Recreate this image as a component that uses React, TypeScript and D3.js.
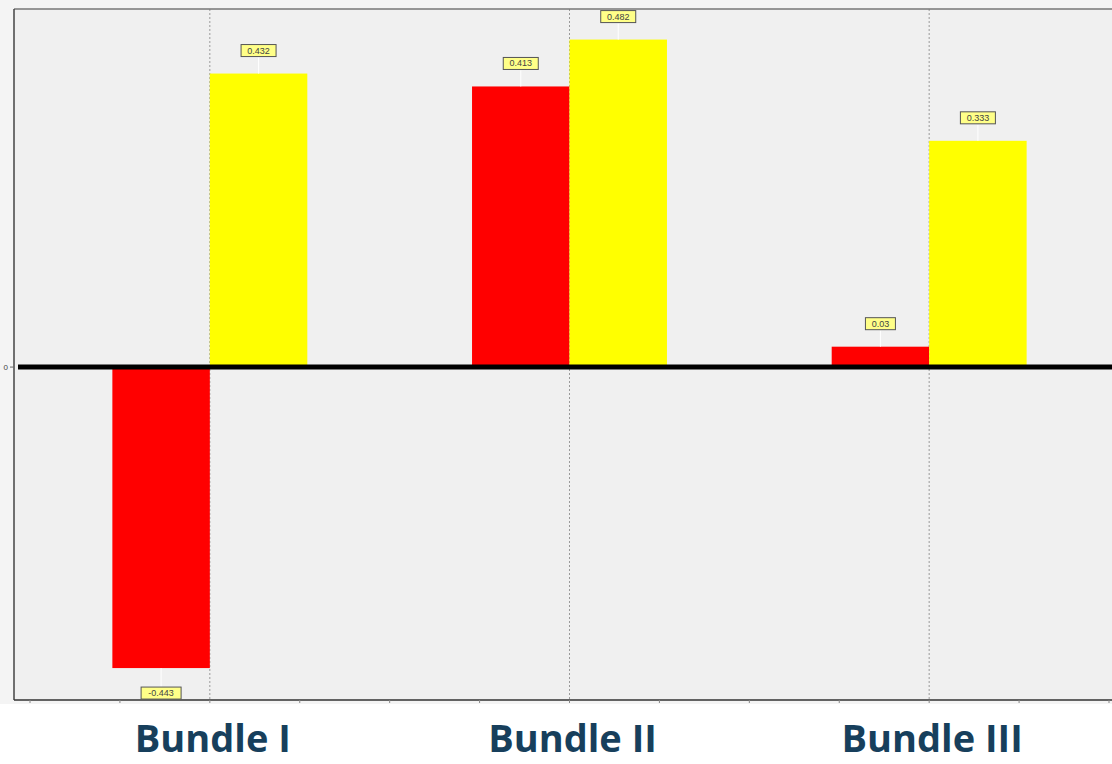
import React from "react";
import * as d3 from "d3";

const categories = ["Bundle I", "Bundle II", "Bundle III"];
const series = ["A", "B"];
const seriesColors = ["#ff0000", "#ffff00"];
const valuesA = [-0.443, 0.413, 0.03];
const valuesB = [0.432, 0.482, 0.333];
const yTicks = [0];

const W = 1112;
const H = 764;

export default function App() {
  const plotLeft = 14;
  const plotTop = 9;
  const plotBottom = 700;
  const plotRight = 1130;
  const x0 = d3.scaleBand<string>().domain(categories).range([30, 1109]).padding(0);
  const bw = x0.bandwidth();
  const x1 = d3
    .scaleBand<string>()
    .domain(series)
    .range([bw / 2 - bw * 0.271, bw / 2 + bw * 0.271])
    .padding(0);
  const y = d3.scaleLinear().domain([-0.49, 0.527]).range([plotBottom, plotTop]);
  const y0 = y(0);

  const minorTicks: number[] = [];
  const [r0] = x0.range();
  for (let i = 0; i <= categories.length * 4; i++) minorTicks.push(r0 + (i * bw) / 4);

  const data = categories.flatMap((c, i) => [
    { c, s: series[0], v: valuesA[i], color: seriesColors[0] },
    { c, s: series[1], v: valuesB[i], color: seriesColors[1] },
  ]);

  return (
    <svg
      width={W}
      height={H}
      style={{ position: "absolute", left: 0, top: 0, display: "block" }}
      fontFamily="'Liberation Sans', Arial, sans-serif"
    >
      <rect x={0} y={0} width={W} height={H} fill="#ffffff" />
      <rect x={0} y={0} width={W} height={704} fill="#f4f4f4" />
      <rect x={plotLeft} y={plotTop} width={plotRight - plotLeft} height={plotBottom - plotTop} fill="#f0f0f0" />
      {/* category gridlines */}
      {categories.map((c) => {
        const cx = (x0(c) as number) + bw / 2;
        return (
          <line key={c} x1={cx} x2={cx} y1={plotTop} y2={plotBottom} stroke="#9a9a9a" strokeWidth={1} strokeDasharray="2,2" />
        );
      })}
      {/* bars */}
      {data.map((d, i) => {
        const bx = (x0(d.c) as number) + (x1(d.s) as number);
        const w = x1.bandwidth();
        const yt = Math.min(y(d.v), y0);
        const h = Math.abs(y(d.v) - y0);
        return <rect key={i} x={bx} y={yt} width={w} height={h} fill={d.color} />;
      })}
      {/* zero line */}
      <line x1={18} x2={W} y1={y0} y2={y0} stroke="#000" strokeWidth={5} />
      {/* frame */}
      <line x1={plotLeft} x2={plotRight} y1={plotTop} y2={plotTop} stroke="#777" strokeWidth={1.5} />
      <line x1={plotLeft} x2={plotLeft} y1={plotTop} y2={plotBottom} stroke="#444" strokeWidth={1.5} />
      <line x1={plotLeft} x2={plotRight} y1={plotBottom} y2={plotBottom} stroke="#333" strokeWidth={1.5} />
      {/* y ticks */}
      {yTicks.map((t) => (
        <g key={t}>
          <line x1={10} x2={plotLeft} y1={y(t)} y2={y(t)} stroke="#666" strokeWidth={1} />
          <text x={8} y={y(t) + 3} fontSize={8} fill="#444" textAnchor="end">
            {t}
          </text>
        </g>
      ))}
      {/* x minor ticks */}
      {minorTicks.map((t, i) => (
        <line key={i} x1={t} x2={t} y1={plotBottom} y2={plotBottom + 3} stroke="#888" strokeWidth={1} />
      ))}
      {/* value labels */}
      {data.map((d, i) => {
        const cx = (x0(d.c) as number) + (x1(d.s) as number) + x1.bandwidth() / 2;
        const label = String(d.v);
        const bw2 = label.length * 5 + 10;
        const end = y(d.v);
        const pos = d.v >= 0;
        const boxY = pos ? end - 29 : end + 19;
        const lineY1 = pos ? boxY + 13 : end;
        const lineY2 = pos ? end : boxY;
        return (
          <g key={i}>
            <line x1={cx} x2={cx} y1={lineY1} y2={lineY2} stroke="#ffffff" strokeWidth={1} />
            <rect x={cx - bw2 / 2} y={boxY} width={bw2} height={12} fill="#ffff88" stroke="#555" strokeWidth={1} />
            <text x={cx} y={boxY + 9} fontSize={9} fill="#444" textAnchor="middle">
              {label}
            </text>
          </g>
        );
      })}
      {/* category labels */}
      {categories.map((c) => (
        <text
          key={c}
          x={(x0(c) as number) + bw / 2 + 3}
          y={752}
          textAnchor="middle"
          fontFamily="'Open Sans', sans-serif"
          fontWeight={700}
          fontSize={38}
          fill="#173f5c"
        >
          {c}
        </text>
      ))}
    </svg>
  );
}
